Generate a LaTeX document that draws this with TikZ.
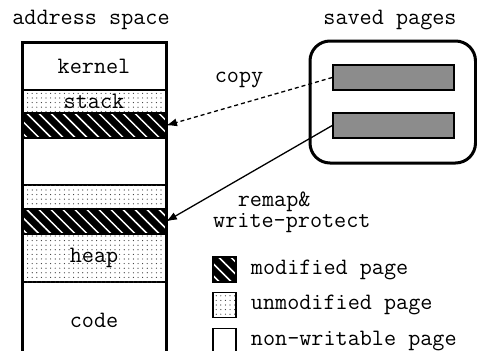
\documentclass[tikz,border=0pt]{standalone}
\usetikzlibrary{positioning,arrows.meta,patterns.meta}

\tikzset{
  modified/.style={preaction={fill=black}, pattern={Lines[angle=-45,distance=8.5pt,line width=1.5pt]}, pattern color=white},
  unmodified/.style={fill=white, postaction={pattern={Dots[distance=4.6pt,radius=0.6pt]}, pattern color=black!80}},
  rowline/.style={draw, line width=1.5pt},
  savedpage/.style={draw, line width=1.5pt, fill=black!45, minimum width=121pt, minimum height=25pt, inner sep=0pt},
  legendbox/.style={draw, line width=1.5pt, minimum width=23pt, minimum height=25pt, inner sep=0pt},
  legendtext/.style={inner sep=0pt, anchor=west},
  maparrow/.style={line width=1.3pt, -{Latex[length=11pt,width=8pt]}}
}

\begin{document}
\begin{tikzpicture}[x=1pt, y=-1pt, font=\ttfamily\fontsize{23.5}{21}\selectfont]
    \useasboundingbox (0,0) rectangle (477,351);
    \clip (0,0) rectangle (477,351);

    % boundaries of the address space
    \coordinate (asLeft) at (22,0);
    \coordinate (asRight) at (166,0);
    \coordinate (asTop) at (0,42);
    \coordinate (kernelBottom) at (0,90);
    \coordinate (stackBottom) at (0,113);
    \coordinate (modOneBottom) at (0,138);
    \coordinate (gapBottom) at (0,185);
    \coordinate (cleanBottom) at (0,209);
    \coordinate (modTwoBottom) at (0,234);
    \coordinate (heapBottom) at (0,282);
    \coordinate (asBottom) at (0,362);

    \node (addrTitle) at (91,20) {address space};

    \path (asTop -| asLeft) rectangle (kernelBottom -| asRight) coordinate[pos=0.5] (kernelMid);
    \draw[rowline, unmodified] (kernelBottom -| asLeft) rectangle (stackBottom -| asRight) coordinate[pos=0.5] (stackMid);
    \draw[rowline, modified] (stackBottom -| asLeft) rectangle (modOneBottom -| asRight) coordinate[pos=0.5] (modOneMid);
    \draw[rowline, unmodified] (gapBottom -| asLeft) rectangle (cleanBottom -| asRight) coordinate[pos=0.5] (cleanMid);
    \draw[rowline, modified] (cleanBottom -| asLeft) rectangle (modTwoBottom -| asRight) coordinate[pos=0.5] (modTwoMid);
    \draw[rowline, unmodified] (modTwoBottom -| asLeft) rectangle (heapBottom -| asRight) coordinate[pos=0.5] (heapMid);
    \path (heapBottom -| asLeft) rectangle (asBottom -| asRight) coordinate[pos=0.5] (codeMid);
    \draw[line width=3pt] (asTop -| asLeft) rectangle (asBottom -| asRight);

    \node (kernelLabel) at (kernelMid) {kernel};
    \node (stackLabel) at (stackMid) {stack};
    \node (heapLabel) at (heapMid) {heap};
    \node (codeLabel) at (0,320 -| codeMid) {code};

    % saved pages
    \node (savedTitle) at (390,20) {saved pages};
    \draw[line width=3pt, rounded corners=20pt] (310,41) rectangle (475.5,163);
    \node[savedpage] (savedOne) at (393.5,77.5) {};
    \node[savedpage] (savedTwo) at (393.5,125.5) {};

    \draw[maparrow, dash pattern=on 4pt off 3pt] (savedOne.west) -- (modOneMid -| asRight);
    \draw[maparrow] (savedTwo.west) -- (modTwoMid -| asRight);
    \node (copyLabel) at (239,80) {copy};
    \node[align=left, anchor=west, inner sep=0pt] (remapLabel) at (213,212.5) {\hspace*{1.05em}remap\&\\write-protect};

    % legend
    \node[legendbox, modified] (legMod) at (224.5,269.5) {};
    \node[legendbox, unmodified] (legClean) at (224.5,305) {};
    \node[legendbox, fill=white] (legFixed) at (224.5,341) {};
    \node[legendtext, right=14pt of legMod] (legModText) {modified page};
    \node[legendtext, right=14pt of legClean] (legCleanText) {unmodified page};
    \node[legendtext, right=14pt of legFixed] (legFixedText) {non-writable page};

\end{tikzpicture}
\end{document}
